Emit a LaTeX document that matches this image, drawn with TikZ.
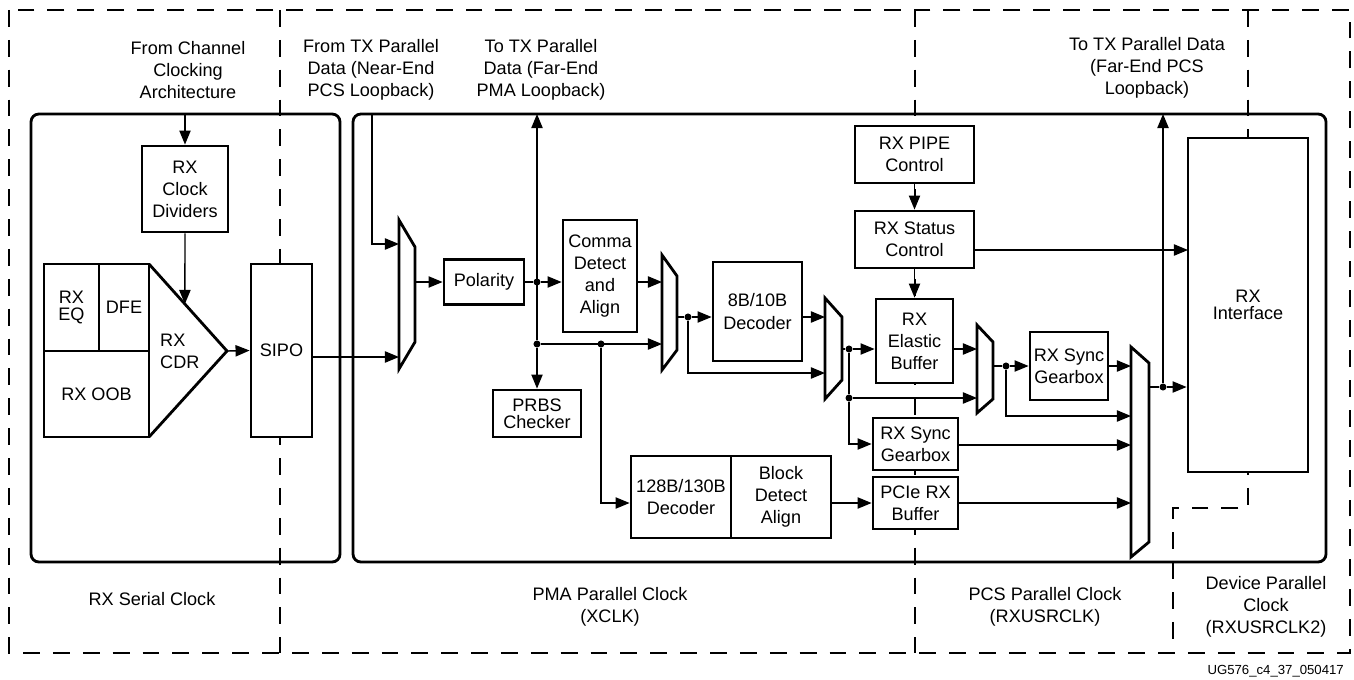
\documentclass[tikz,border=0pt]{standalone}
\usepackage{fontspec}
\setmainfont{Liberation Sans}
\usetikzlibrary{positioning,arrows.meta,calc}

\begin{document}
\begin{tikzpicture}[
  x=0.02cm, y=-0.02cm,
  font=\fontsize{10.3}{12.6}\selectfont,
  >={Triangle[length=8pt,width=6.4pt]},
  blk/.style={draw=black, fill=white, line width=1.6pt, inner sep=1pt, align=center},
  tightfont/.style={font=\fontsize{10.3}{9.8}\selectfont},
  clkbox/.style={draw=black, line width=1.6pt, rounded corners=4.5pt},
  clkline/.style={draw=black, line width=1.6pt, dash pattern=on 9.6pt off 7.4pt},
  sig/.style={->, draw=black, line width=0.8pt},
  sigline/.style={draw=black, line width=0.8pt},
  mux/.style={draw=black, fill=white, line width=1.6pt, line join=miter},
  jdot/.style={circle, fill=black, inner sep=0pt, minimum size=4pt},
  lbl/.style={align=center}
]
  \useasboundingbox (0,0) rectangle (1354,679);
  \draw[clkline] (9,10) rectangle (1350,653);
  \draw[clkline] (280,10) -- (280,653);
  \draw[clkline] (915,10) -- (915,653);
  \draw[clkline] (1248,10) -- (1248,508) -- (1173,508) -- (1173,653);
  \draw[clkbox] (31,114) rectangle (340,562);
  \draw[clkbox] (353,114) rectangle (1326,562);

  \node[lbl] (lchan) at (188,70) {From Channel\\Clocking\\Architecture};
  \node[lbl] (lnear) at (371,70) {From TX Parallel\\Data (Near-End\\PCS Loopback)};
  \node[lbl] (lpma) at (541,70) {To TX Parallel\\Data (Far-End\\PMA Loopback)};
  \node[lbl] (lpcs) at (1147,68) {To TX Parallel Data\\(Far-End PCS\\Loopback)};
  \node[lbl] (lser) at (152,599) {RX Serial Clock};
  \node[lbl] (lxclk) at (610,607) {PMA Parallel Clock\\(XCLK)};
  \node[lbl] (lusr) at (1045,607) {PCS Parallel Clock\\(RXUSRCLK)};
  \node[lbl] (ldev) at (1266,607) {Device Parallel\\Clock\\(RXUSRCLK2)};
  \node[anchor=base east, font=\fontsize{7.5}{9}\selectfont] (docid) at (1350,674) {UG576\_c4\_37\_050417};

  \node[blk, minimum width=1.72cm, minimum height=1.72cm] (div) at (185,189) {RX\\Clock\\Dividers};
  \node[blk, tightfont, minimum width=1.10cm, minimum height=1.74cm] (rxeq) at (71.5,307.5) {RX\\EQ};
  \node[blk, minimum width=1.0cm, minimum height=1.74cm] (dfe) at (124,307.5) {DFE};
  \node[blk, minimum width=2.10cm, minimum height=1.72cm] (oob) at (96.5,394) {RX OOB};
  \coordinate (cdrtop) at (149,264);
  \coordinate (cdrtip) at (227,351);
  \coordinate (cdrbot) at (149,437);
  \draw[line width=1.6pt, line join=miter] (cdrtop) -- (cdrtip) -- (cdrbot);
  \coordinate (cdrhit) at ($(cdrtop)!0.46!(cdrtip)$);
  \node[anchor=west, align=left] (cdr) at (154,351) {RX\\CDR};
  \node[blk, minimum width=1.22cm, minimum height=3.46cm] (sipo) at (281.5,350.5) {SIPO};

  \node[blk, minimum width=1.6cm, minimum height=0.9cm] (pol) at (484,282) {Polarity};
  \node[blk, minimum width=1.48cm, minimum height=2.24cm] (comma) at (600,276) {Comma\\Detect\\and\\Align};
  \node[blk, tightfont, minimum width=1.76cm, minimum height=0.94cm] (prbs) at (537,413.5) {PRBS\\Checker};
  \node[blk, minimum width=1.78cm, minimum height=1.98cm] (dec8) at (757.5,311.5) {8B/10B\\Decoder};
  \node[blk, minimum width=2.0cm, minimum height=1.64cm] (dec128) at (681,497) {128B/130B\\Decoder};
  \node[blk, minimum width=2.0cm, minimum height=1.64cm] (bda) at (781,497) {Block\\Detect\\Align};
  \node[blk, minimum width=2.38cm, minimum height=1.14cm] (pipe) at (914.5,154.5) {RX PIPE\\Control};
  \node[blk, minimum width=2.38cm, minimum height=1.14cm] (stat) at (914.5,239.5) {RX Status\\Control};
  \node[blk, minimum width=1.54cm, minimum height=1.68cm] (ebuf) at (914.5,341) {RX\\Elastic\\Buffer};
  \node[blk, minimum width=1.70cm, minimum height=1.04cm] (sync2) at (915.5,444) {RX Sync\\Gearbox};
  \node[blk, minimum width=1.70cm, minimum height=1.04cm] (pcie) at (915.5,503) {PCIe RX\\Buffer};
  \node[blk, minimum width=1.56cm, minimum height=1.36cm] (sync1) at (1069,366) {RX Sync\\Gearbox};
  \node[blk, tightfont, minimum width=2.4cm, minimum height=6.68cm] (rxif) at (1248,305) {RX\\Interface};

  \draw[mux] (399,220) -- (415,247) -- (415,342) -- (399,369) -- cycle;
  \draw[mux] (662,255) -- (677,276) -- (677,350) -- (662,370) -- cycle;
  \draw[mux] (825,298) -- (842,317) -- (842,380) -- (825,399) -- cycle;
  \draw[mux] (977,325) -- (993,342) -- (993,399) -- (977,413) -- cycle;
  \draw[mux] (1131,347) -- (1149,363) -- (1149,542) -- (1131,557) -- cycle;
  \coordinate (m1a) at (399,244);
  \coordinate (m1b) at (399,357);
  \coordinate (m1o) at (415,282);
  \coordinate (m2a) at (662,282);
  \coordinate (m2b) at (662,344);
  \coordinate (m2o) at (677,317);
  \coordinate (m3a) at (825,317);
  \coordinate (m3b) at (825,373);
  \coordinate (m3o) at (842,349);
  \coordinate (m4a) at (977,349);
  \coordinate (m4b) at (977,398);
  \coordinate (m4o) at (993,366);
  \coordinate (m5a) at (1131,366);
  \coordinate (m5b) at (1131,416);
  \coordinate (m5c) at (1131,445);
  \coordinate (m5d) at (1131,503);
  \coordinate (m5o) at (1149,387);
  \coordinate (chanin) at (185,114);
  \coordinate (nearin) at (372,114);
  \coordinate (pmaout) at (537,114);
  \coordinate (pcsout) at (1163,114);
  \coordinate (ifst) at (1188,250);

  \node[jdot] (j1) at (537,282) {};
  \node[jdot] (j2) at (537,344) {};
  \node[jdot] (j3) at (601,344) {};
  \node[jdot] (j4) at (688,317) {};
  \node[jdot] (j5) at (849,349) {};
  \node[jdot] (j6) at (849,398) {};
  \node[jdot] (j7) at (1006,366) {};
  \node[jdot] (j8) at (1163,387) {};

  \draw[sig] (chanin) -- (div.north);
  \draw[sig] (div.south) -- (cdrhit);
  \draw[sig] (cdrtip) -- (sipo.west);
  \draw[sig] (sipo.east |- m1b) -- (m1b);
  \draw[sig] (nearin) |- (m1a);
  \draw[sig] (m1o) -- (pol.west);
  \draw[sigline] (pol.east) -- (j1);
  \draw[sig] (j1) -- (comma.west |- j1);
  \draw[sig] (j2) -- (pmaout);
  \draw[sig] (j2) -- (prbs.north);
  \draw[sig] (j2) -- (m2b);
  \draw[sig] (j3) |- (dec128.west |- pcie);
  \draw[sig] (comma.east |- m2a) -- (m2a);
  \draw[sigline] (m2o) -- (j4);
  \draw[sig] (j4) -- (dec8.west |- j4);
  \draw[sig] (j4) |- (m3b);
  \draw[sig] (dec8.east |- m3a) -- (m3a);
  \draw[sigline] (m3o) -- (j5);
  \draw[sig] (j5) -- (ebuf.west |- j5);
  \draw[sigline] (j5) -- (j6);
  \draw[sig] (j6) -- (m4b);
  \draw[sig] (j6) |- (sync2.west);
  \draw[sig] (ebuf.east |- m4a) -- (m4a);
  \draw[sigline] (m4o) -- (j7);
  \draw[sig] (j7) -- (sync1.west);
  \draw[sig] (j7) |- (m5b);
  \draw[sig] (sync1.east) -- (m5a);
  \draw[sig] (sync2.east |- m5c) -- (m5c);
  \draw[sig] (bda.east |- pcie) -- (pcie.west);
  \draw[sig] (pcie.east) -- (m5d);
  \draw[sigline] (m5o) -- (j8);
  \draw[sig] (j8) -- (rxif.west |- j8);
  \draw[sig] (j8) -- (pcsout);
  \draw[sig] (pipe.south) -- (stat.north);
  \draw[sig] (stat.south) -- (ebuf.north);
  \draw[sig] (stat.east |- ifst) -- (ifst);
\end{tikzpicture}
\end{document}
